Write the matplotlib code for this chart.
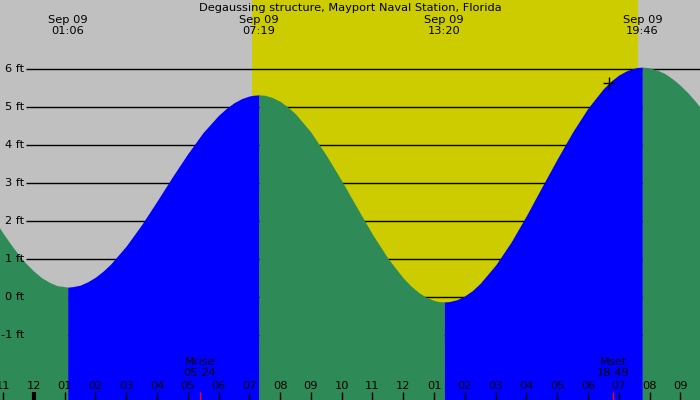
import numpy as np
import matplotlib
matplotlib.use('Agg')
import matplotlib.pyplot as plt

plt.rcParams['font.family'] = ['DejaVu Sans']

title = 'Degaussing structure, Mayport Naval Station, Florida'

# hours since midnight Sep 09, heights in ft
tide_hours = [-1.25, -1.0, -0.75, -0.5, -0.25, 0.0, 0.25, 0.5, 0.75, 1.1,
              1.25, 1.5, 1.75, 2.0, 2.25, 2.5, 3.0, 3.5, 4.0, 4.5, 5.0, 5.5, 6.0, 6.25, 6.5, 6.75, 7.0, 7.15, 7.317,
              7.5, 7.75, 8.0, 8.25, 8.5, 9.0, 9.5, 10.0, 10.5, 11.0, 11.5, 12.0, 12.25, 12.5, 12.75, 13.0, 13.15, 13.333,
              13.5, 13.75, 14.0, 14.25, 14.5, 15.0, 15.5, 16.0, 16.5, 17.0, 17.5, 18.0, 18.5, 18.75, 19.0, 19.25, 19.5, 19.6, 19.767,
              19.9, 20.0, 20.25, 20.5, 20.75, 21.0, 21.25, 21.5, 21.75]
tide_ft = [1.99, 1.68, 1.39, 1.12, 0.88, 0.68, 0.51, 0.39, 0.30, 0.26,
           0.27, 0.31, 0.40, 0.52, 0.68, 0.87, 1.34, 1.90, 2.52, 3.16, 3.77, 4.33, 4.78, 4.96, 5.11, 5.22, 5.29, 5.31, 5.32,
           5.31, 5.25, 5.15, 5.00, 4.82, 4.34, 3.73, 3.06, 2.35, 1.65, 1.02, 0.50, 0.29, 0.12, -0.01, -0.09, -0.12, -0.13,
           -0.12, -0.07, 0.03, 0.17, 0.36, 0.84, 1.44, 2.14, 2.89, 3.63, 4.34, 4.97, 5.48, 5.68, 5.84, 5.95, 6.02, 6.04, 6.05,
           6.04, 6.03, 5.97, 5.88, 5.74, 5.57, 5.37, 5.14, 4.88]

extreme_hours = [1.1, 7.317, 13.333, 19.767]
extreme_labels = ['01:06', '07:19', '13:20', '19:46']

sunrise, sunset = 7.08, 19.63

moon_hours = [5.4, 18.817]
moon_names = ['Mrise', 'Mset']
moon_labels = ['05:24', '18:49']

cross_hour, cross_ft = 18.69, 5.63

hour_ticks = list(range(-1, 22))
hour_labels = ['11', '12', '01', '02', '03', '04', '05', '06', '07', '08', '09', '10',
               '11', '12', '01', '02', '03', '04', '05', '06', '07', '08', '09']
ft_levels = [-1, 0, 1, 2, 3, 4, 5, 6]

t = np.array(tide_hours)
h = np.array(tide_ft)
fs = 8.2

fig = plt.figure(figsize=(7, 4), dpi=100, facecolor='#c0c0c0')
ax = fig.add_axes([0, 0, 1, 1])
ax.set_facecolor('#c0c0c0')
ax.set_xlim(-1.098, 21.64)
ax.set_ylim(-2.711, 7.816)
ax.axis('off')
xa = ax.get_xaxis_transform()
ya = ax.get_yaxis_transform()

ax.axvspan(sunrise, sunset, color='#cccc00', lw=0, zorder=1)
ax.hlines(ft_levels, 26 / 700, 1, transform=ya, color='black', lw=1, zorder=2)
for lv in ft_levels:
    ax.text(24 / 700, lv, '%d ft' % lv, transform=ya, ha='right', va='center', fontsize=fs, zorder=5)

# blue while the tide rises, green while it falls
bounds = [t[0]] + extreme_hours + [t[-1]]
for a, b in zip(bounds[:-1], bounds[1:]):
    m = (t >= a) & (t <= b)
    rising = h[m][-1] > h[m][0]
    ax.fill_between(t[m], h[m], -3, color='#0000ff' if rising else '#2e8b57',
                    lw=0, antialiased=False, zorder=3)

ax.plot([cross_hour], [cross_ft], marker='+', color='black', ms=8, mew=1, zorder=6)

ax.text(0.5, 1 - 8 / 400, title, transform=ax.transAxes, ha='center', va='center', fontsize=fs)
for x, lab in zip(extreme_hours, extreme_labels):
    ax.text(x, 1 - 20 / 400, 'Sep 09', transform=xa, ha='center', va='center', fontsize=fs)
    ax.text(x, 1 - 31 / 400, lab, transform=xa, ha='center', va='center', fontsize=fs)

for x, lab in zip(hour_ticks, hour_labels):
    ax.text(x, 1 - 386 / 400, lab, transform=xa, ha='center', va='center', fontsize=fs, zorder=5)
ax.vlines(hour_ticks, 0, 8 / 400, transform=xa, color='black', lw=1, zorder=5)
ax.vlines([0], 0, 8 / 400, transform=xa, color='black', lw=3, zorder=5)

for x, nm, lab in zip(moon_hours, moon_names, moon_labels):
    ax.text(x, 1 - 362 / 400, nm, transform=xa, ha='center', va='center', fontsize=fs, zorder=5)
    ax.text(x, 1 - 373 / 400, lab, transform=xa, ha='center', va='center', fontsize=fs, zorder=5)
ax.vlines(moon_hours, 0, 8 / 400, transform=xa, color='red', lw=1, zorder=6)

plt.savefig('out.png', dpi=100, facecolor=fig.get_facecolor())
